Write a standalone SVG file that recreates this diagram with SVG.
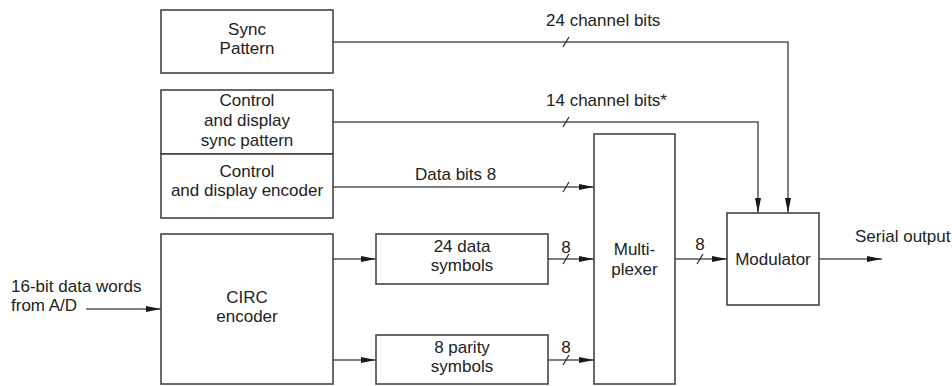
<svg xmlns="http://www.w3.org/2000/svg" width="952" height="386" viewBox="0 0 952 386">
<defs>
<marker id="ah" viewBox="0 0 15 6" refX="15" refY="3" markerWidth="15" markerHeight="6" markerUnits="userSpaceOnUse" orient="auto">
<path d="M0,0 L15,3 L0,6 Z" fill="#1a1a1a"/>
</marker>
<style>
.box{fill:#fff;stroke:#444;stroke-width:1.6}
.ln{fill:none;stroke:#555;stroke-width:1.5}
.sl{stroke:#333;stroke-width:1.3}
text{font-family:"Liberation Sans",Arial,sans-serif;font-size:17px;fill:#222}
.c{text-anchor:middle}
</style>
</defs>
<rect width="952" height="386" fill="#fff"/>
<g id="connectors">
<polyline class="ln" points="333,42 788,42 788,213" marker-end="url(#ah)"/>
<polyline class="ln" points="333,122 758,122 758,213" marker-end="url(#ah)"/>
<line class="ln" x1="333" y1="187" x2="594" y2="187" marker-end="url(#ah)"/>
<line class="ln" x1="86" y1="309" x2="161" y2="309" marker-end="url(#ah)"/>
<line class="ln" x1="333" y1="259" x2="376" y2="259" marker-end="url(#ah)"/>
<line class="ln" x1="333" y1="360" x2="376" y2="360" marker-end="url(#ah)"/>
<line class="ln" x1="548" y1="259" x2="594" y2="259" marker-end="url(#ah)"/>
<line class="ln" x1="548" y1="360" x2="594" y2="360" marker-end="url(#ah)"/>
<line class="ln" x1="675" y1="259" x2="727" y2="259" marker-end="url(#ah)"/>
<line class="ln" x1="819" y1="259" x2="882" y2="259" marker-end="url(#ah)"/>
<line class="sl" x1="563" y1="47" x2="569" y2="37"/>
<line class="sl" x1="563" y1="127" x2="569" y2="117"/>
<line class="sl" x1="563" y1="192" x2="569" y2="182"/>
<line class="sl" x1="563" y1="264" x2="569" y2="254"/>
<line class="sl" x1="563" y1="365" x2="569" y2="355"/>
<line class="sl" x1="697" y1="264" x2="703" y2="254"/>
<text x="546" y="26">24 channel bits</text>
<text x="546" y="106">14 channel bits*</text>
<text x="415" y="180">Data bits 8</text>
<text class="c" x="566" y="253">8</text>
<text class="c" x="566" y="353">8</text>
<text class="c" x="700" y="250">8</text>
<text x="855" y="242">Serial output</text>
<text x="11" y="292">16-bit data words</text>
<text x="11" y="311">from A/D</text>
</g>
<g id="sync-pattern">
<rect class="box" x="161" y="10" width="172" height="63"/>
<text class="c" x="247" y="35">Sync</text>
<text class="c" x="247" y="54">Pattern</text>
</g>
<g id="control-sync">
<rect class="box" x="161" y="90" width="172" height="64"/>
<text class="c" x="247" y="106">Control</text>
<text class="c" x="247" y="126">and display</text>
<text class="c" x="247" y="146">sync pattern</text>
</g>
<g id="control-encoder">
<rect class="box" x="161" y="154" width="172" height="64"/>
<text class="c" x="247" y="177">Control</text>
<text class="c" x="247" y="196">and display encoder</text>
</g>
<g id="circ-encoder">
<rect class="box" x="161" y="234" width="172" height="150"/>
<text class="c" x="247" y="303">CIRC</text>
<text class="c" x="247" y="322">encoder</text>
</g>
<g id="data-symbols">
<rect class="box" x="376" y="234" width="172" height="50"/>
<text class="c" x="462" y="252">24 data</text>
<text class="c" x="462" y="271">symbols</text>
</g>
<g id="parity-symbols">
<rect class="box" x="376" y="335" width="172" height="49"/>
<text class="c" x="462" y="353">8 parity</text>
<text class="c" x="462" y="372">symbols</text>
</g>
<g id="multiplexer">
<rect class="box" x="594" y="134" width="81" height="250"/>
<text class="c" x="634.5" y="255">Multi-</text>
<text class="c" x="634.5" y="275">plexer</text>
</g>
<g id="modulator">
<rect class="box" x="727" y="213" width="92" height="92"/>
<text class="c" x="773" y="265">Modulator</text>
</g>
</svg>
